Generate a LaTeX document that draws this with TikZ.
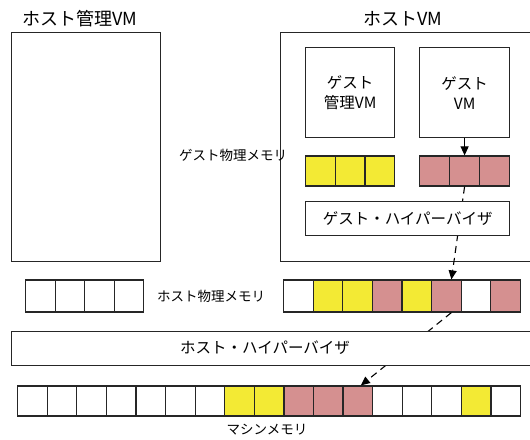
\documentclass[tikz,border=0pt]{standalone}
\usepackage{fontspec}
\setmainfont{Noto Sans CJK JP}
\usetikzlibrary{arrows.meta}
\definecolor{memyellow}{RGB}{243,234,52}
\definecolor{mempink}{RGB}{213,144,144}
\begin{document}
\begin{tikzpicture}[x=1pt,y=-1pt,
  box/.style={draw=black!85, line width=1.3pt, fill=white, inner sep=0pt},
  cell/.style={draw=black!85, line width=1.2pt, minimum height=30pt, inner sep=0pt, anchor=west},
  title/.style={font=\fontsize{18}{20}\selectfont, inner sep=0pt},
  lbl/.style={font=\fontsize{13.5}{15}\selectfont, inner sep=0pt},
  boxtxt/.style={font=\fontsize{15.5}{20}\selectfont, align=center},
  arr/.style={line width=1.1pt, -{Triangle[length=9pt,width=8pt]}},
  darr/.style={line width=1.1pt, dash pattern=on 7pt off 5pt, -{Triangle[length=9pt,width=8pt]}}]
\clip (0,0) rectangle (530,439);
\fill[white] (0,0) rectangle (530,439);

% titles
\node[title] (thm) at (80,19) {ホスト管理VM};
\node[title] (thv) at (403,19) {ホストVM};

% host management VM
\node[box, minimum width=149pt, minimum height=229pt, anchor=north west] (hmvm) at (11,32) {};

% host VM (extends past the right edge)
\node[draw=black!85, line width=1.3pt, inner sep=0pt, minimum width=260pt, minimum height=229pt, anchor=north west] (hvm) at (280,32) {};

% guest VMs
\node[box, boxtxt, minimum width=89pt, minimum height=90pt, anchor=north west] (gmvm) at (305,47) {ゲスト\\管理VM};
\node[box, boxtxt, minimum width=90pt, minimum height=90pt, anchor=north west] (gvm) at (419,47) {ゲスト\\VM};

% guest physical memory
\node[lbl] (lgpm) at (233,155) {ゲスト物理メモリ};
\foreach \i in {1,2,3} {
  \node[cell, fill=memyellow, minimum width=29.67pt] (gy\i) at ({305+(\i-1)*29.67},171) {};
}
\foreach \i in {1,2,3} {
  \node[cell, fill=mempink, minimum width=30pt] (gp\i) at ({419+(\i-1)*30},171) {};
}

% host physical memory
\foreach \i in {1,...,4} {
  \node[cell, fill=white, minimum width=29.5pt, minimum height=32pt] (hl\i) at ({25+(\i-1)*29.5},296) {};
}
\node[lbl] (lhpm) at (211,296) {ホスト物理メモリ};
\foreach \c [count=\i] in {white,memyellow,memyellow,mempink,memyellow,mempink,white,mempink} {
  \node[cell, fill=\c, minimum width=29.6pt, minimum height=32pt] (hp\i) at ({283+(\i-1)*29.6},296) {};
}

% machine memory
\foreach \c [count=\i] in {white,white,white,white,white,white,white,memyellow,memyellow,mempink,mempink,mempink,white,white,white,memyellow,white} {
  \node[cell, fill=\c, minimum width=29.59pt] (mm\i) at ({17+(\i-1)*29.59},401) {};
}
\node[lbl] (lmm) at (267,430) {マシンメモリ};

% connectors
\draw[arr] (gvm.south -| gp2) -- (gp2.north);
\draw[darr] (gp2.south) -- ([xshift=5pt]hp6.north);
\draw[darr] ([xshift=5pt]hp6.south) -- ([xshift=3pt]mm12.north);

% hypervisors (drawn over the connectors)
\node[box, boxtxt, minimum width=204pt, minimum height=34pt, anchor=north west] (ghv) at (305,201) {ゲスト・ハイパーバイザ};
\node[box, minimum width=540pt, minimum height=34pt, anchor=north west] (hhv) at (11,331) {};
\node[boxtxt] (thhv) at (265,348) {ホスト・ハイパーバイザ};
\end{tikzpicture}
\end{document}
